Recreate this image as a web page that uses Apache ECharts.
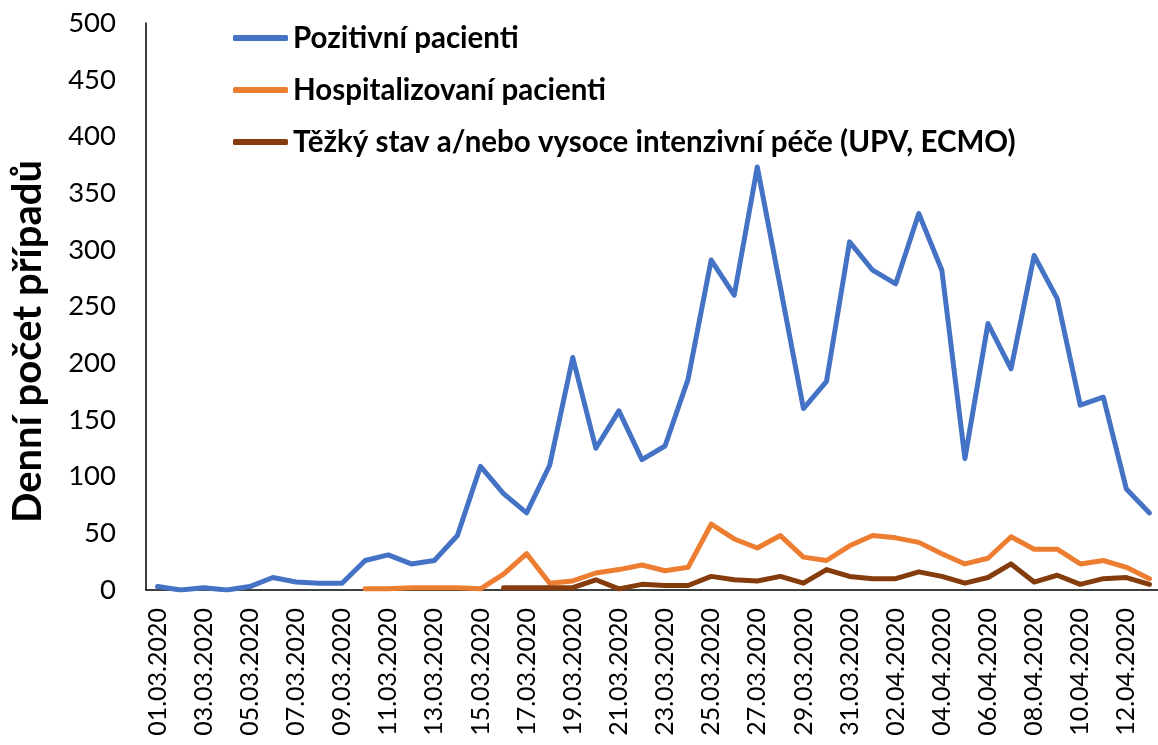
<!DOCTYPE html>
<html>
<head>
<meta charset="utf-8">
<script src="https://cdn.jsdelivr.net/npm/echarts@6/dist/echarts.min.js"></script>
<style>
    html, body { margin: 0; padding: 0; background: #fff; }
    #chart { width: 1158px; height: 745px; }
</style>
</head>
<body>
<div id="chart"></div>
<script>
// dny 01.03.2020 - 13.04.2020
const dates = [
    '01.03.2020', '02.03.2020', '03.03.2020', '04.03.2020', '05.03.2020', '06.03.2020', '07.03.2020', '08.03.2020',
    '09.03.2020', '10.03.2020', '11.03.2020', '12.03.2020', '13.03.2020', '14.03.2020', '15.03.2020', '16.03.2020',
    '17.03.2020', '18.03.2020', '19.03.2020', '20.03.2020', '21.03.2020', '22.03.2020', '23.03.2020', '24.03.2020',
    '25.03.2020', '26.03.2020', '27.03.2020', '28.03.2020', '29.03.2020', '30.03.2020', '31.03.2020', '01.04.2020',
    '02.04.2020', '03.04.2020', '04.04.2020', '05.04.2020', '06.04.2020', '07.04.2020', '08.04.2020', '09.04.2020',
    '10.04.2020', '11.04.2020', '12.04.2020', '13.04.2020'
];

const pozitivni = [
    3, 0, 2, 0, 3, 11, 7, 6, 6, 26, 31, 23, 26, 48, 109, 85,
    68, 110, 205, 125, 158, 115, 127, 186, 291, 260, 373, 267,
    160, 184, 307, 282, 270, 332, 282, 116, 235, 195, 295, 257,
    163, 170, 89, 68
];

const hospitalizovani = [
    null, null, null, null, null, null, null, null, null, 1, 1, 2, 2, 2, 1, 14,
    32, 6, 8, 15, 18, 22, 17, 20, 58, 45, 37, 48,
    29, 26, 39, 48, 46, 42, 32, 23, 28, 47, 36, 36,
    23, 26, 20, 10
];

const tezkyStav = [
    null, null, null, null, null, null, null, null, null, null, null, null, null, null, null, 2,
    2, 2, 2, 9, 1, 5, 4, 4, 12, 9, 8, 12,
    6, 18, 12, 10, 10, 16, 12, 6, 11, 23, 7, 13,
    5, 10, 11, 5
];

const seriesNames = [
    'Pozitivní pacienti',
    'Hospitalizovaní pacienti',
    'Těžký stav a/nebo vysoce intenzivní péče (UPV, ECMO)'
];
const colors = ['#4472C4', '#ED7D31', '#843C0C'];

(function () {
    "use strict";

    let myChart = echarts.init(document.getElementById('chart'));
    let font = 'Lato';

    function makeLine(name, data, color) {
        return {
            name: name,
            type: 'line',
            data: data,
            showSymbol: false,
            connectNulls: false,
            lineStyle: { color: color, width: 5, cap: 'round', join: 'round' },
            itemStyle: { color: color },
            emphasis: { disabled: true }
        };
    }

    let option = {
        animation: false,
        color: colors,
        legend: {
            orient: 'vertical',
            left: 233,
            top: 23,
            padding: 0,
            itemWidth: 55,
            itemHeight: 6,
            itemGap: 22,
            icon: 'roundRect',
            data: seriesNames,
            textStyle: {
                fontFamily: font,
                fontSize: 29.5,
                fontWeight: 'bold',
                color: '#000',
                lineHeight: 30
            }
        },
        grid: {
            left: 146,
            top: 23,
            bottom: 155,
            width: 1015,
            outerBoundsMode: 'none'
        },
        xAxis: {
            type: 'category',
            data: dates,
            boundaryGap: true,
            axisLine: { lineStyle: { color: '#000', width: 1.5 } },
            axisTick: { show: false },
            axisLabel: {
                interval: 1,
                rotate: 90,
                margin: 18,
                fontFamily: font,
                fontSize: 25,
                color: '#000'
            }
        },
        yAxis: {
            type: 'value',
            min: 0,
            max: 500,
            interval: 50,
            name: 'Denní počet případů',
            nameLocation: 'middle',
            nameGap: 98,
            nameTextStyle: {
                fontFamily: font,
                fontSize: 40,
                fontWeight: 'bold',
                color: '#000',
                padding: [0, 70, 0, 0]
            },
            axisLine: { show: true, lineStyle: { color: '#000', width: 1.5 } },
            axisTick: { show: false },
            splitLine: { show: false },
            axisLabel: {
                margin: 30,
                fontFamily: font,
                fontSize: 27.5,
                color: '#000'
            }
        },
        series: [
            makeLine(seriesNames[0], pozitivni, colors[0]),
            makeLine(seriesNames[1], hospitalizovani, colors[1]),
            makeLine(seriesNames[2], tezkyStav, colors[2])
        ]
    };

    myChart.setOption(option);
    window.addEventListener('resize', () => {
        myChart.resize();
    });
})();
</script>
</body>
</html>
